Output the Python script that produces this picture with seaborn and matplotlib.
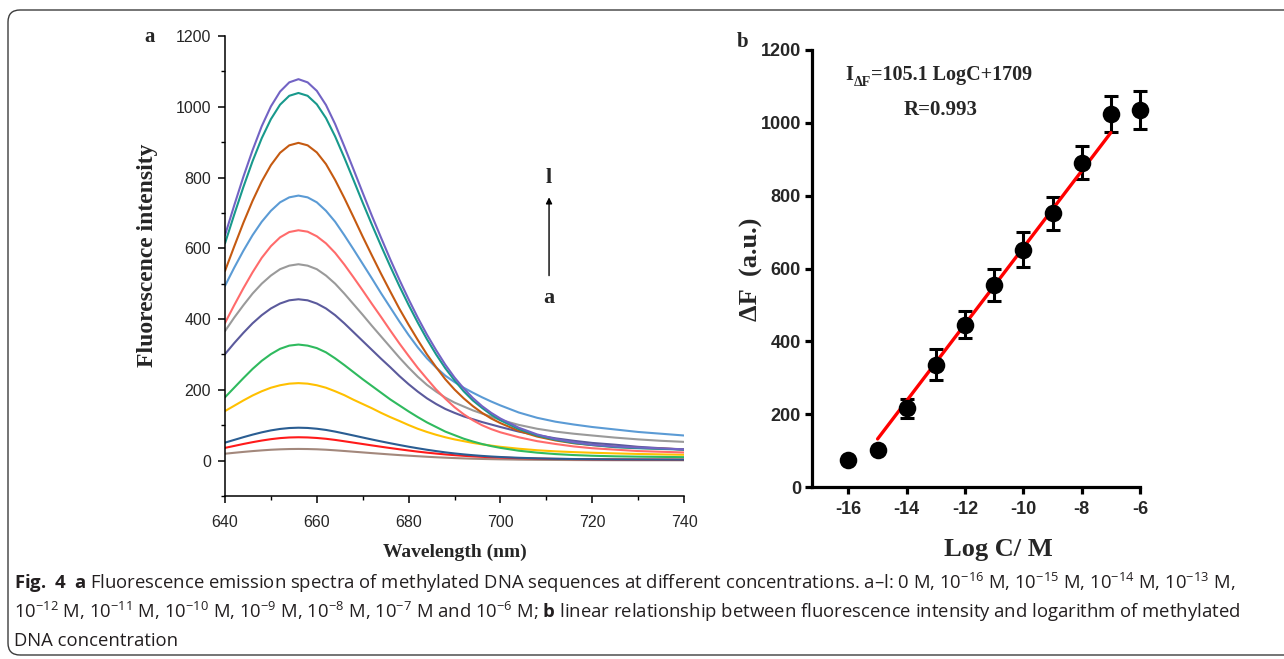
import matplotlib
matplotlib.use("Agg")
import pandas as pd
import matplotlib.pyplot as plt
import seaborn as sns
from matplotlib.patches import FancyBboxPatch
from matplotlib.ticker import MultipleLocator
from matplotlib.transforms import IdentityTransform

# ---- panel a: emission spectra a..l ----
wavelength = [640, 642, 644, 646, 648, 650, 652, 654, 656, 658, 660, 662, 664, 666,
              668, 670, 672, 674, 676, 678, 680, 682, 684, 686, 688, 690, 692, 694,
              696, 698, 700, 704, 708, 712, 716, 720, 725, 730, 735, 740]

spec_a = [19.5, 22.1, 24.6, 26.9, 28.9, 30.7, 31.9, 32.7, 33, 32.7, 32.0, 30.8, 29.1, 27.2,
          25.2, 23.2, 21.2, 19.3, 17.4, 15.6, 14.0, 12.4, 10.9, 9.5, 8.3, 7.2, 6.2, 5.4,
          4.7, 4.1, 3.6, 2.8, 2.3, 1.9, 1.6, 1.4, 1.2, 1.1, 1.1, 1.0]
spec_b = [36.0, 41.5, 47.0, 52.1, 56.7, 60.6, 63.6, 65.4, 66, 65.5, 64.0, 61.7, 58.5, 54.7,
          50.8, 46.9, 43.0, 39.2, 35.5, 32.0, 28.6, 25.4, 22.5, 19.9, 17.5, 15.4, 13.6, 12.0,
          10.7, 9.5, 8.6, 6.9, 5.8, 4.9, 4.3, 3.9, 3.5, 3.2, 3.0, 2.8]
spec_c = [50.8, 58.5, 66.2, 73.4, 79.9, 85.4, 89.5, 92.1, 93, 92.3, 90.1, 86.7, 82.0, 76.6,
          71.0, 65.3, 59.7, 54.3, 49.1, 44.1, 39.3, 34.9, 30.7, 26.9, 23.3, 20.3, 17.6, 15.3,
          13.3, 11.6, 10.2, 8.0, 6.4, 5.3, 4.5, 3.9, 3.4, 3.2, 3.0, 2.8]
spec_d = [140, 155, 170, 184, 196, 206, 213, 217.5, 219, 217.5, 213, 206, 196, 185,
          172, 160, 148, 135, 123, 112, 100.5, 90, 81, 73, 66, 60, 55, 50,
          46, 42.4, 39, 33.6, 29.3, 26.2, 24, 22.2, 20.4, 18.8, 17.6, 16.5]
spec_e = [179, 206, 233, 259, 282, 301, 316, 325, 328, 325, 318, 306, 289, 270,
          250, 230, 211, 192, 173, 156, 139, 123, 108, 95, 82, 72, 62, 54,
          47, 41, 36, 28, 22.5, 18.5, 15.7, 13.8, 12.1, 11.2, 10.5, 9.8]
spec_f = [301, 332, 361, 388, 411, 430, 444, 453, 456, 453, 444, 430, 411, 388,
          363, 338, 313, 288, 264, 239, 216, 195, 176, 160, 146, 135, 125, 117,
          109, 102, 95, 82, 72, 63, 56, 50, 45, 39, 35, 31]
spec_g = [366, 404, 439, 472, 500, 523, 541, 551, 555, 551, 541, 523, 500, 472,
          442, 412, 381, 351, 321, 291, 263, 237, 214, 195, 178, 164, 153, 142,
          133, 124, 115, 101, 90, 82, 76, 71, 65, 60, 56, 53]
spec_h = [389, 439, 487, 532, 573, 606, 631, 646, 651, 647, 634, 614, 587, 554,
          518, 481, 443, 406, 368, 331, 296, 262, 231, 201, 175, 151, 131, 114,
          100, 89, 80, 66, 55, 47, 40, 35, 31, 27, 25, 23]
spec_i = [494, 545, 593, 637, 675, 706, 730, 744, 749, 744, 730, 706, 675, 637,
          597, 556, 515, 473, 433, 393, 355, 320, 289, 263, 240, 222, 206, 192,
          179, 167, 156, 136, 121, 110, 102, 95, 88, 81, 76, 71]
spec_j = [536, 605, 672, 734, 789, 835, 870, 891, 898, 891, 871, 838, 793, 742,
          688, 633, 580, 528, 478, 429, 384, 341, 300, 264, 230, 201, 176, 154,
          135, 119, 106, 84, 68, 57, 49, 44, 39, 36, 34, 32]
spec_k = [614, 695, 773, 846, 911, 965, 1006, 1031, 1039, 1031, 1007, 968, 916, 856,
          793, 729, 667, 607, 549, 493, 440, 390, 343, 300, 261, 227, 196, 170,
          149, 130, 114, 89, 71, 59, 50, 44, 38, 35, 33, 31]
spec_l = [637, 721, 802, 877, 945, 1001, 1043, 1069, 1078, 1069, 1045, 1005, 951, 888,
          823, 757, 692, 630, 569, 511, 456, 404, 356, 312, 271, 235, 204, 177,
          154, 135, 119, 93, 74, 61, 52, 45, 40, 37, 34.5, 32]

curve_names = list("abcdefghijkl")
curve_colors = ["#a3887c", "#ff1a1a", "#2a5d92", "#ffc000", "#2fba5e", "#5b5a9c",
                "#9a9a9a", "#ff6b6b", "#5b9bd5", "#c55a11", "#18998c", "#7263c4"]

# ---- panel b: calibration ----
logc = [-16, -15, -14, -13, -12, -11, -10, -9, -8, -7, -6]
delta_f = [75, 101, 216, 336, 446, 555, 652, 752, 891, 1025, 1036]
delta_err = [0, 0, 27, 43, 37, 43, 48, 45, 45, 49, 52]
fit_logc = [-15, -7]
fit_df = [132, 973]

sns.set_theme(style="ticks")
serif = "Liberation Serif"
plt.rcParams["font.family"] = ["Liberation Sans", "DejaVu Sans"]
plt.rcParams["axes.unicode_minus"] = False
plt.rcParams["mathtext.fontset"] = "custom"
plt.rcParams["mathtext.rm"] = "Open Sans"
plt.rcParams["mathtext.bf"] = "Open Sans:bold"
plt.rcParams["mathtext.it"] = "Open Sans:italic"

fig = plt.figure(figsize=(12.84, 6.59), dpi=100)
W, H = 1284, 659

# ---------------- panel a ----------------
ax1 = fig.add_axes([225 / W, 1 - 496 / H, 459 / W, 460 / H])
spectra = [spec_a, spec_b, spec_c, spec_d, spec_e, spec_f,
           spec_g, spec_h, spec_i, spec_j, spec_k, spec_l]
df = pd.concat([pd.DataFrame({"wavelength": wavelength, "intensity": s, "curve": n})
                for n, s in zip(curve_names, spectra)])
sns.lineplot(data=df, x="wavelength", y="intensity", hue="curve",
             hue_order=curve_names, palette=dict(zip(curve_names, curve_colors)),
             linewidth=1.5, legend=False, ax=ax1)
ax1.set_xlim(640, 740)
ax1.set_ylim(-100, 1200)
ax1.set_xticks(range(640, 741, 20))
ax1.set_yticks(range(0, 1201, 200))
ax1.xaxis.set_minor_locator(MultipleLocator(10))
ax1.yaxis.set_minor_locator(MultipleLocator(100))
sns.despine(ax=ax1)
for sp in ["left", "bottom"]:
    ax1.spines[sp].set_linewidth(1.1)
    ax1.spines[sp].set_color("black")
ax1.tick_params(which="major", direction="out", length=5, width=1.1, color="black",
                labelsize=11.5, pad=5)
ax1.tick_params(axis="x", which="major", pad=9)
ax1.tick_params(which="minor", direction="out", length=3, width=1.0, color="black")
ax1.set_xlabel("Wavelength (nm)", family=serif, weight="bold", fontsize=14)
ax1.set_ylabel("Fluorescence intensity", family=serif, weight="bold", fontsize=17)
ax1.xaxis.set_label_coords(0.501, -0.103)
ax1.yaxis.set_label_coords(-0.145, 0.524)

ax1.annotate("", xy=(710.6, 752), xytext=(710.6, 515),
             arrowprops=dict(arrowstyle="-|>", color="black", lw=1.0, mutation_scale=9))
ax1.text(710.6, 800, "l", family=serif, weight="bold", fontsize=16, ha="center", va="center")
ax1.text(710.6, 460, "a", family=serif, weight="bold", fontsize=16, ha="center", va="center")

fig.text(150 / W, 1 - 37 / H, "a", family=serif, weight="bold", fontsize=15, ha="center", va="center")

# ---------------- panel b ----------------
ax2 = fig.add_axes([812 / W, 1 - 487 / H, 328 / W, 437 / H])
ax2.errorbar(logc, delta_f, yerr=delta_err, fmt="none", ecolor="black",
             elinewidth=2.2, capsize=5, capthick=2.2, zorder=2, clip_on=False)
sns.lineplot(x=fit_logc, y=fit_df, color="#ff0000", linewidth=2.4, ax=ax2, zorder=3)
sns.scatterplot(x=logc, y=delta_f, color="black", s=160, edgecolor="black",
                linewidth=0, ax=ax2, zorder=4, clip_on=False)
ax2.set_xlim(-17.25, -6)
ax2.set_ylim(0, 1200)
ax2.set_xticks(range(-16, -5, 2))
ax2.set_yticks(range(0, 1201, 200))
sns.despine(ax=ax2)
for sp in ["left", "bottom"]:
    ax2.spines[sp].set_linewidth(2.3)
    ax2.spines[sp].set_color("black")
ax2.tick_params(direction="out", length=5, width=2.3, color="black", labelsize=13, pad=3)
ax2.tick_params(axis="x", pad=5)
for lab in ax2.get_xticklabels() + ax2.get_yticklabels():
    lab.set_weight("bold")
ax2.set_xlabel("Log C/ M", family=serif, weight="bold", fontsize=19)
ax2.set_ylabel("\u0394F  (a.u.)", family=serif, weight="bold", fontsize=19)
ax2.xaxis.set_label_coords(0.567, -0.117)
ax2.yaxis.set_label_coords(-0.148, 0.497)

t1 = ax2.text(-16.1, 1105, "I", family=serif, weight="bold", fontsize=14.5, va="bottom", ha="left")
t2 = ax2.annotate("\u0394F", xy=(1.0, 0.0), xycoords=t1, xytext=(0, -3),
                  textcoords="offset points", family=serif, weight="bold",
                  fontsize=10, ha="left", va="bottom")
ax2.annotate("=105.1 LogC+1709", xy=(1.0, 0.0), xycoords=(t2, t1),
             family=serif, weight="bold", fontsize=14.5, ha="left", va="bottom")
ax2.text(-12.85, 1035, "R=0.993", family=serif, weight="bold", fontsize=15, ha="center", va="center")

fig.text(743 / W, 1 - 42 / H, "b", family=serif, weight="bold", fontsize=15, ha="center", va="center")

# ---------------- caption ----------------
cap_kw = dict(family=["Open Sans", "DejaVu Sans"], fontsize=13.3, color="#231f20",
              ha="left", va="baseline")
fig.text(14 / W, 1 - 589 / H,
         r"$\mathbf{Fig.\ 4}$  $\mathbf{a}$ Fluorescence emission spectra of methylated DNA sequences at different "
         r"concentrations. a–l: 0 M, 10$^{-16}$ M, 10$^{-15}$ M, 10$^{-14}$ M, 10$^{-13}$ M,", **cap_kw)
fig.text(14 / W, 1 - 618 / H,
         r"10$^{-12}$ M, 10$^{-11}$ M, 10$^{-10}$ M, 10$^{-9}$ M, 10$^{-8}$ M, 10$^{-7}$ M and 10$^{-6}$ M; "
         r"$\mathbf{b}$ linear relationship between fluorescence intensity and logarithm of methylated", **cap_kw)
fig.text(14 / W, 1 - 646 / H, "DNA concentration", **cap_kw)

# rounded frame around the figure
frame = FancyBboxPatch((8, 4), 1310, 645, boxstyle="round,pad=0,rounding_size=12",
                       transform=IdentityTransform(), fill=False, ec="#3c3c3c", lw=1.0)
fig.patches.append(frame)

fig.savefig("out.png", dpi=100)
